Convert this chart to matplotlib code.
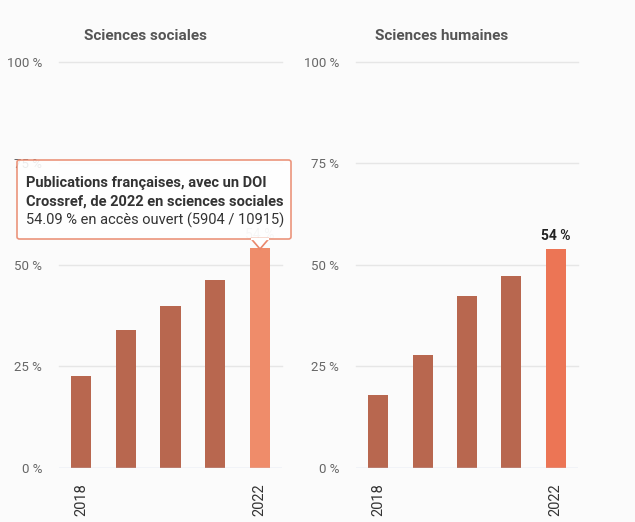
import matplotlib.pyplot as plt
from matplotlib.patches import FancyBboxPatch, Polygon

# Data
years = ['2018', '2019', '2020', '2021', '2022']
year_labels = ['2018', '', '', '', '2022']
sociales = [22.6, 34.0, 39.8, 46.3, 54.09]
humaines = [18.0, 27.8, 42.4, 47.3, 53.8]
yticks = [0, 25, 50, 75, 100]

W, H = 635, 522
bg = '#fbfbfb'
bar_col = '#b8674f'
hover_col = '#ef8c6a'
last_col = '#ec7555'
fam = ['Roboto', 'DejaVu Sans']

fig = plt.figure(figsize=(W / 100, H / 100), dpi=100, facecolor=bg)


def px_axes(x0, x1, y_top, y_bot):
    return fig.add_axes([x0 / W, 1 - y_bot / H, (x1 - x0) / W, (y_bot - y_top) / H])


def draw_panel(ax, values, last_color, label_color, label_weight):
    ax.set_facecolor(bg)
    cols = [bar_col] * (len(values) - 1) + [last_color]
    x = list(range(len(values)))
    ax.bar(x, values, width=0.45, color=cols, zorder=2)
    ax.set_xlim(-0.5, len(values) - 0.5)
    ax.set_ylim(0, 100)
    for s in ax.spines.values():
        s.set_visible(False)
    for t in yticks[1:]:
        ax.axhline(t, color='#e6e6e6', lw=1, zorder=1, clip_on=False)
    ax.axhline(0, color='#ccd6eb', lw=1, zorder=3)
    ax.set_yticks(yticks)
    ax.set_yticklabels([f'{t} %' for t in yticks], color='#666666', fontsize=9.5,
                       family=fam)
    ax.tick_params(axis='y', length=0, pad=12)
    ax.set_xticks(x)
    ax.set_xticklabels(year_labels, rotation=90, color='#333333', fontsize=10.5,
                       va='top', family=fam)
    ax.tick_params(axis='x', length=0, pad=11)
    ax.text(x[-1], values[-1] + 1.5, f'{round(values[-1])} %', ha='center', va='bottom',
            fontsize=10, color=label_color, weight=label_weight, family=fam, zorder=4)


ax1 = px_axes(59, 282, 62, 467.7)
draw_panel(ax1, sociales, hover_col, '#bbbbbb', 'normal')
ax2 = px_axes(356, 578, 62, 467.7)
draw_panel(ax2, humaines, last_col, '#222222', 'bold')

fig.text(145 / W, 1 - 36 / H, 'Sciences sociales', ha='center', va='center',
         fontsize=11, color='#555555', weight='bold', family=fam)
fig.text(442 / W, 1 - 36 / H, 'Sciences humaines', ha='center', va='center',
         fontsize=11, color='#555555', weight='bold', family=fam)

# tooltip
x0, x1, y0, y1 = 17 / W, 291 / W, 1 - 239 / H, 1 - 160 / H
box = FancyBboxPatch((x0, y0), x1 - x0, y1 - y0, boxstyle='round,pad=0,rounding_size=0.004',
                     transform=fig.transFigure, facecolor='white', edgecolor='#e9866a',
                     lw=1.2, alpha=0.88, zorder=10)
fig.add_artist(box)
tip = Polygon([(251 / W, y0 + 0.5 / H), (269 / W, y0 + 0.5 / H), (260 / W, 1 - 249 / H)],
              closed=True, transform=fig.transFigure, facecolor='white', edgecolor='#e9866a',
              lw=1.2, zorder=10)
fig.add_artist(tip)
fig.add_artist(plt.Line2D([251.8 / W, 268.2 / W], [y0 + 0.5 / H, y0 + 0.5 / H],
                          transform=fig.transFigure, color='white', lw=1.6, zorder=11))
fig.text(26 / W, 1 - 183 / H, 'Publications françaises, avec un DOI', ha='left', va='center',
         fontsize=10.5, weight='bold', color='#333333', family=fam, zorder=12)
fig.text(26 / W, 1 - 202 / H, 'Crossref, de 2022 en sciences sociales', ha='left', va='center',
         fontsize=10.5, weight='bold', color='#333333', family=fam, zorder=12)
fig.text(26 / W, 1 - 220 / H, '54.09 % en accès ouvert (5904 / 10915)', ha='left', va='center',
         fontsize=10.5, color='#333333', family=fam, zorder=12)

fig.savefig('out.png', dpi=100, facecolor=bg)
